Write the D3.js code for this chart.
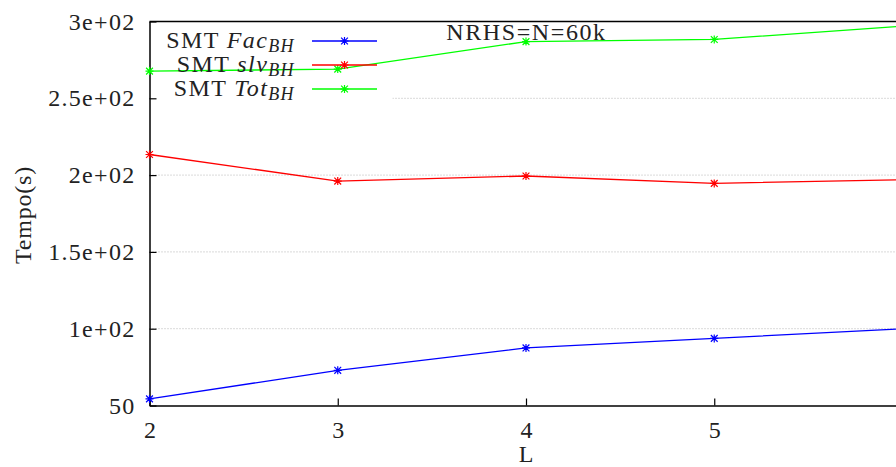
<!DOCTYPE html>
<html>
<head>
<meta charset="utf-8">
<script src="https://cdn.jsdelivr.net/npm/d3@7"></script>
<style>
  html, body { margin: 0; padding: 0; background: #fff; }
  svg { display: block; }
  text { font-family: "Liberation Serif", "DejaVu Serif", serif; fill: #222; }
</style>
</head>
<body>
<svg id="chart" width="896" height="467"></svg>
<script>
// Solve times vs. number of levels L (NRHS = N = 60k)
const levels = [2, 3, 4, 5, 6];
const facBH = [54.3, 72.9, 87.5, 93.7, 100.0];
const slvBH = [213.4, 196.1, 199.4, 194.6, 197.0];
const totBH = [267.7, 269.0, 286.9, 288.3, 297.0];

const xTicks = [2, 3, 4, 5];
const yTicks = [50, 100, 150, 200, 250, 300];
const yTickLabels = ["50", "1e+02", "1.5e+02", "2e+02", "2.5e+02", "3e+02"];

const seriesNames = ["Fac", "slv", "Tot"];
const seriesColors = ["#0000ff", "#ff0000", "#00ff00"];
const seriesValues = [facBH, slvBH, totBH];

const svg = d3.select("#chart");
const plotLeft = 149.5, plotRight = 902.5, plotTop = 21.5, plotBottom = 405.5;

const x = d3.scaleLinear().domain([2, 6]).range([plotLeft, plotRight]);
const y = d3.scaleLinear().domain([50, 300]).range([plotBottom, plotTop]);

// horizontal dotted grid
svg.append("g")
  .selectAll("line")
  .data(yTicks.filter(v => v > 50 && v < 300))
  .join("line")
  .attr("x1", plotLeft).attr("x2", plotRight)
  .attr("y1", d => y(d)).attr("y2", d => y(d))
  .attr("stroke", "#b4b4b4")
  .attr("stroke-width", 1)
  .attr("stroke-dasharray", "1,2");

// opaque key box
svg.append("rect")
  .attr("x", plotLeft + 1).attr("y", plotTop + 1)
  .attr("width", 242).attr("height", 82)
  .attr("fill", "#fff");

// axes
const yAxis = d3.axisLeft(y)
  .tickValues(yTicks)
  .tickFormat((d, i) => yTickLabels[i])
  .tickSizeInner(-7)
  .tickSizeOuter(0)
  .tickPadding(14);
const gy = svg.append("g").attr("transform", `translate(${plotLeft},0)`).call(yAxis);

const xAxis = d3.axisBottom(x)
  .tickValues(xTicks)
  .tickFormat(d3.format("d"))
  .tickSizeInner(-7)
  .tickSizeOuter(0)
  .tickPadding(15);
const gx = svg.append("g").attr("transform", `translate(0,${plotBottom})`).call(xAxis);

[gx, gy].forEach(g => {
  g.select(".domain").attr("stroke", "#000").attr("stroke-width", 1.5);
  g.selectAll(".tick line").attr("stroke", "#000").attr("stroke-width", 1.2);
  g.selectAll(".tick text")
    .style("font-family", "'Liberation Serif', serif")
    .style("font-size", "24px")
    .attr("fill", "#222");
});
gy.selectAll(".tick text").style("letter-spacing", "1.3px");

// top border
svg.append("line")
  .attr("x1", plotLeft).attr("x2", plotRight)
  .attr("y1", plotTop).attr("y2", plotTop)
  .attr("stroke", "#000").attr("stroke-width", 1.5);

// asterisk marker (plus + cross)
function star(cx, cy, r) {
  const d = r * 0.85;
  return `M${cx - r},${cy}L${cx + r},${cy}M${cx},${cy - r}L${cx},${cy + r}` +
         `M${cx - d},${cy - d}L${cx + d},${cy + d}M${cx - d},${cy + d}L${cx + d},${cy - d}`;
}

const line = d3.line().x((d, i) => x(levels[i])).y(d => y(d));

seriesValues.forEach((vals, k) => {
  const g = svg.append("g");
  g.append("path")
    .attr("d", line(vals))
    .attr("fill", "none")
    .attr("stroke", seriesColors[k])
    .attr("stroke-width", 1.3);
  g.selectAll("path.pt")
    .data(vals)
    .join("path")
    .attr("class", "pt")
    .attr("d", (d, i) => star(x(levels[i]), y(d), 4))
    .attr("stroke", seriesColors[k])
    .attr("stroke-width", 1.2)
    .attr("fill", "none");
});

// key
const keyRows = [41, 65, 89];
seriesNames.forEach((name, k) => {
  const ry = keyRows[k];
  const t = svg.append("text")
    .attr("x", 295).attr("y", ry + 7)
    .attr("text-anchor", "end")
    .style("font-size", "24px")
    .style("letter-spacing", "1.4px");
  t.append("tspan").text("SMT ");
  t.append("tspan").style("font-style", "italic").text(name);
  t.append("tspan").style("font-style", "italic").style("font-size", "18px")
    .attr("dy", 4).text("BH");
  svg.append("line")
    .attr("x1", 312).attr("x2", 377)
    .attr("y1", ry).attr("y2", ry)
    .attr("stroke", seriesColors[k]).attr("stroke-width", 1.3);
  svg.append("path")
    .attr("d", star(344.5, ry, 4))
    .attr("stroke", seriesColors[k]).attr("stroke-width", 1.2).attr("fill", "none");
});

// title
svg.append("text")
  .attr("x", 526.5).attr("y", 40)
  .attr("text-anchor", "middle")
  .style("font-size", "24px")
  .style("letter-spacing", "1.6px")
  .text("NRHS=N=60k");

// axis titles
svg.append("text")
  .attr("x", x(4)).attr("y", 462)
  .attr("text-anchor", "middle")
  .style("font-size", "24px")
  .text("L");

svg.append("text")
  .attr("transform", "translate(31,215) rotate(-90)")
  .attr("text-anchor", "middle")
  .style("font-size", "24px")
  .style("letter-spacing", "0.8px")
  .text("Tempo(s)");
</script>
</body>
</html>
